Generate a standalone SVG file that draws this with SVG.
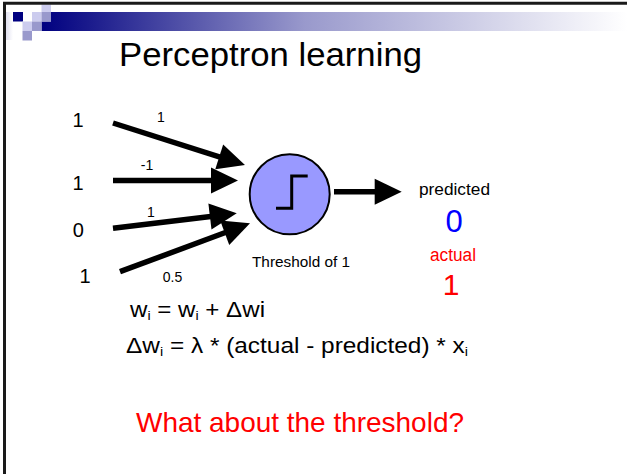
<svg xmlns="http://www.w3.org/2000/svg" width="627" height="474" viewBox="0 0 627 474">
  <style>
    text { font-family: "Liberation Sans", Arial, sans-serif; fill: #000; }
    .inp { font-size: 20px; text-anchor: middle; }
    .wt { font-size: 14px; text-anchor: middle; }
    .conn { stroke: #000; stroke-width: 5.5; fill: none; marker-end: url(#head); }
    .red { fill: #ff0000; }
    .blue { fill: #0000ff; }
    .lt { fill: #ccccee; }
    .md { fill: #9999cc; }
  </style>
  <defs>
    <linearGradient id="bar" gradientUnits="userSpaceOnUse" x1="41" y1="0" x2="627" y2="0">
      <stop offset="0" stop-color="#000080"/>
      <stop offset="0.08" stop-color="#1a1a8c"/>
      <stop offset="0.45" stop-color="#9999cc"/>
      <stop offset="1" stop-color="#ffffff"/>
    </linearGradient>
    <linearGradient id="strip" x1="0" y1="0" x2="1" y2="0">
      <stop offset="0" stop-color="#dcdcee"/>
      <stop offset="1" stop-color="#ffffff"/>
    </linearGradient>
    <marker id="head" markerUnits="userSpaceOnUse" markerWidth="27" markerHeight="26" refX="5" refY="13" orient="auto" overflow="visible">
      <path d="M0,0 L27,13 L0,26 Z" fill="#000"/>
    </marker>
  </defs>

  <rect width="627" height="474" fill="#fff"/>

  <g id="header">
    <rect x="5" y="12" width="8" height="28" fill="url(#strip)"/>
    <path d="M51,12 H627 V31 H41.5 V21.5 H51 Z" fill="url(#bar)"/>
    <rect x="13" y="12" width="10" height="9.5" fill="#000080"/>
    <rect class="lt" x="32" y="12" width="9.5" height="9.5"/>
    <rect class="md" x="41.5" y="12" width="9.5" height="9.5"/>
    <rect class="lt" x="41.5" y="4.5" width="9.5" height="7.5"/>
    <rect class="lt" x="22.5" y="21.5" width="9.5" height="9.5"/>
    <rect class="md" x="32" y="21.5" width="9.5" height="9.5"/>
    <rect class="md" x="22.5" y="31" width="9.5" height="9.5"/>
    <line x1="3" y1="3.2" x2="627" y2="3.2" stroke="#1a1a1a" stroke-width="3"/>
    <line x1="4.5" y1="2" x2="4.5" y2="474" stroke="#1a1a1a" stroke-width="3"/>
  </g>

  <g id="title">
    <text x="119" y="66" font-size="33" textLength="303" lengthAdjust="spacingAndGlyphs">Perceptron learning</text>
  </g>

  <g id="inputs">
    <g id="in1"><text class="inp" x="78" y="127">1</text></g>
    <g id="in2"><text class="inp" x="78" y="190">1</text></g>
    <g id="in3"><text class="inp" x="78.3" y="237">0</text></g>
    <g id="in4"><text class="inp" x="85" y="283">1</text></g>
  </g>

  <g id="connectors">
    <line class="conn" x1="113" y1="123" x2="224" y2="158.3"/>
    <line class="conn" x1="113" y1="180.5" x2="216" y2="180.5"/>
    <line class="conn" x1="113" y1="228.3" x2="214.9" y2="215.9"/>
    <line class="conn" x1="120" y1="271.7" x2="229.4" y2="231"/>
    <line class="conn" x1="334" y1="191.7" x2="379.7" y2="191.7"/>
  </g>

  <g id="weights">
    <text class="wt" x="161" y="122">1</text>
    <text class="wt" x="147" y="170">-1</text>
    <text class="wt" x="151" y="217">1</text>
    <text class="wt" x="172.5" y="282">0.5</text>
  </g>

  <g id="neuron">
    <circle cx="289.7" cy="194.3" r="40" fill="#9999ff" stroke="#000" stroke-width="2"/>
    <path d="M276,208.3 H291.7 V176 H307.7" fill="none" stroke="#000" stroke-width="3"/>
    <text x="252" y="267" font-size="15" textLength="98" lengthAdjust="spacingAndGlyphs">Threshold of 1</text>
  </g>

  <g id="output">
    <text x="419" y="195" font-size="16" textLength="71" lengthAdjust="spacingAndGlyphs">predicted</text>
    <text class="blue" x="454" y="231.5" font-size="31" text-anchor="middle">0</text>
    <text class="red" x="430" y="261" font-size="18" textLength="46" lengthAdjust="spacingAndGlyphs">actual</text>
    <text class="red" x="451" y="295" font-size="30" text-anchor="middle">1</text>
  </g>

  <g id="formulas">
    <text x="130" y="317" font-size="22" textLength="135" lengthAdjust="spacingAndGlyphs">w<tspan font-size="13" dy="3">i</tspan><tspan dy="-3"> = w</tspan><tspan font-size="13" dy="3">i</tspan><tspan dy="-3"> + Δwi</tspan></text>
    <text x="126" y="353" font-size="22" textLength="342" lengthAdjust="spacingAndGlyphs">Δw<tspan font-size="13" dy="3">i</tspan><tspan dy="-3"> = λ * (actual - predicted) * x</tspan><tspan font-size="13" dy="3">i</tspan></text>
  </g>

  <g id="question">
    <text class="red" x="136" y="432" font-size="28" textLength="328" lengthAdjust="spacingAndGlyphs">What about the threshold?</text>
  </g>
</svg>
